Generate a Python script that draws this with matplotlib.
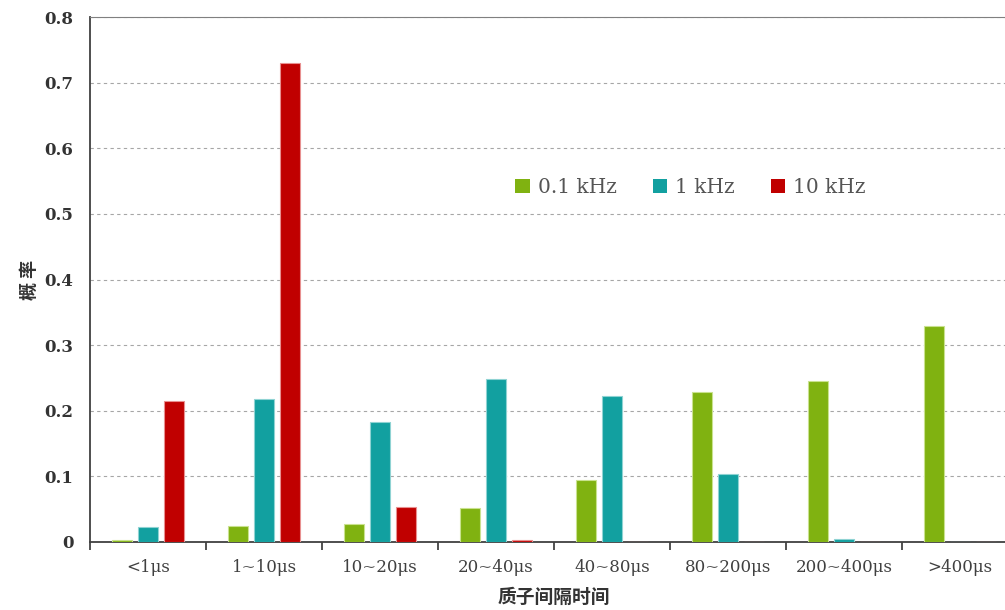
import numpy as np
import matplotlib.pyplot as plt
from matplotlib.patches import Patch

# data
categories = ['<1μs', '1~10μs', '10~20μs', '20~40μs', '40~80μs', '80~200μs', '200~400μs', '>400μs']
series_names = ['0.1 kHz', '1 kHz', '10 kHz']
vals_01k = [0.003, 0.025, 0.027, 0.052, 0.095, 0.228, 0.246, 0.329]
vals_1k = [0.023, 0.218, 0.183, 0.249, 0.223, 0.104, 0.005, 0.0]
vals_10k = [0.215, 0.730, 0.053, 0.003, 0.0, 0.0, 0.0, 0.0]
y_ticks = [0, 0.1, 0.2, 0.3, 0.4, 0.5, 0.6, 0.7, 0.8]

colors = ['#80b211', '#12a0a0', '#c00000']
edges = ['#c9e28f', '#8fd3d3', '#e89090']

serif = ['DejaVu Serif', 'Noto Sans CJK SC']
cjk = ['Noto Sans CJK SC', 'DejaVu Sans']

fig = plt.figure(figsize=(10.05, 6.10), dpi=100)
# the original is cropped on the right, so the axes run past the figure edge
ax = fig.add_axes([90 / 1005, 68 / 610, 928 / 1005, 525 / 610])

x = np.arange(len(categories))
w = 0.17
step = 0.222
for i, (vals, c, ec) in enumerate(zip([vals_01k, vals_1k, vals_10k], colors, edges)):
    ax.bar(x + (i - 1) * step, vals, width=w, color=c, edgecolor=ec, linewidth=0.8, zorder=3)

ax.set_xlim(-0.5, len(categories) - 0.5)
ax.set_ylim(0, 0.8)
ax.set_yticks(y_ticks)
ax.set_yticklabels([f'{v:g}' for v in y_ticks], family=serif, fontsize=12,
                   fontweight='bold', color='#333333')
ax.tick_params(axis='y', length=0, pad=12)

ax.set_xticks(x)
ax.set_xticklabels(categories, family=serif, fontsize=12, color='#404040')
ax.set_xticks(np.arange(-0.5, len(categories)), minor=True)
ax.tick_params(axis='x', which='major', length=0, pad=12)
ax.tick_params(axis='x', which='minor', length=6, width=1.2, color='#333333', direction='out')

ax.yaxis.grid(True, linestyle=(0, (3, 3)), color='#a6a6a6', linewidth=0.8, zorder=0)
for s in ['left', 'bottom']:
    ax.spines[s].set_color('#404040')
    ax.spines[s].set_linewidth(1.3)
ax.spines['top'].set_color('#808080')
ax.spines['right'].set_color('#808080')

ax.set_ylabel('概 率', family=cjk, fontsize=13, fontweight='bold', color='#333333', labelpad=4)
ax.set_xlabel('质子间隔时间', family=cjk, fontsize=13.5, fontweight='bold', color='#333333', labelpad=9)

handles = [Patch(facecolor=c, edgecolor='none') for c in colors]
ax.legend(handles, series_names, loc='center', bbox_to_anchor=(0.647, 0.676), ncol=3,
          frameon=False, handlelength=0.7, handleheight=0.7, handletextpad=0.4,
          columnspacing=1.8, prop={'family': serif, 'size': 14.5}, labelcolor='#555555')

fig.savefig('out.png', dpi=100)
